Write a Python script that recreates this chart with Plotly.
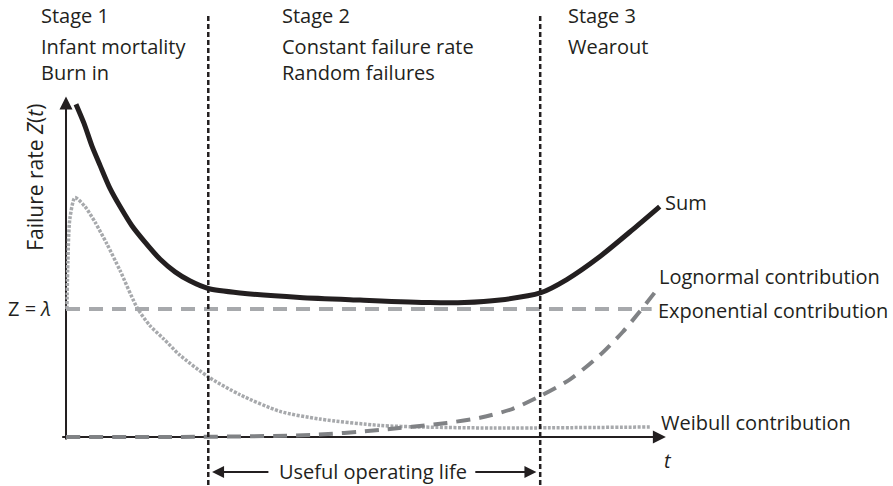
import plotly.graph_objects as go

# ---- data (t in arbitrary time units, Z in units of lambda) ----
LAMBDA = 1.0
stage_bounds = [3.0, 10.0]

t_sum = [0.21, 0.38, 0.55, 0.72, 0.93, 1.14, 1.39, 1.67, 1.98, 2.30, 2.61, 3.00,
         3.67, 4.93, 6.20, 7.67, 8.40, 9.15, 10.00, 10.56, 11.26, 11.95, 12.52]
z_sum = [2.60, 2.45, 2.27, 2.12, 1.94, 1.80, 1.65, 1.52, 1.39, 1.29, 1.22, 1.16,
         1.125, 1.09, 1.07, 1.05, 1.05, 1.07, 1.125, 1.23, 1.41, 1.62, 1.80]

t_weibull = [0.02, 0.04, 0.08, 0.19, 0.40, 0.61, 0.86, 1.14, 1.50, 1.77, 2.05,
             2.40, 3.00, 3.67, 4.51, 5.35, 6.62, 7.50, 9.00, 12.31]
z_weibull = [1.00, 1.38, 1.70, 1.87, 1.80, 1.68, 1.51, 1.30, 1.01, 0.87, 0.77,
             0.64, 0.47, 0.33, 0.20, 0.14, 0.09, 0.078, 0.07, 0.078]

t_lognormal = [0.0, 2.4, 5.2, 6.62, 8.03, 8.73, 9.42, 10.0, 10.63, 11.26, 11.74,
               12.10, 12.46]
z_lognormal = [0.0, 0.0, 0.016, 0.055, 0.11, 0.15, 0.22, 0.32, 0.45, 0.64, 0.82,
               0.98, 1.15]

t_exponential = [0.0, 12.35]
z_exponential = [LAMBDA, LAMBDA]

stage_titles = ["Stage 1", "Stage 2", "Stage 3"]
stage_notes = ["Infant mortality<br>Burn in",
               "Constant failure rate<br>Random failures",
               "Wearout"]

# axis extents (data units)
t_axis_end = 12.65
z_axis_end = 2.66
stage_line_top = 3.31

INK = "#231f20"
LIGHT = "#a7a9ac"
DARK = "#808285"
FONT = "Open Sans"
FONT_SIZE = 20

fig = go.Figure()

# contributions and their sum
fig.add_trace(go.Scatter(x=t_exponential, y=z_exponential, mode="lines",
                         line=dict(color=LIGHT, width=4, dash="14px,9px")))
fig.add_trace(go.Scatter(x=t_weibull, y=z_weibull, mode="lines",
                         line=dict(color=LIGHT, width=3.5, dash="3px,1.5px",
                                   shape="spline", smoothing=0.7)))
fig.add_trace(go.Scatter(x=t_lognormal, y=z_lognormal, mode="lines",
                         line=dict(color=DARK, width=4, dash="14px,9px",
                                   shape="spline", smoothing=0.7)))
fig.add_trace(go.Scatter(x=t_sum, y=z_sum, mode="lines",
                         line=dict(color=INK, width=5, shape="spline", smoothing=0.7)))

shapes = [
    # axes (drawn beneath the curves)
    dict(type="line", xref="x", yref="y", x0=-0.08, y0=0, x1=t_axis_end - 0.2, y1=0,
         line=dict(color=INK, width=2), layer="below"),
    dict(type="line", xref="x", yref="y", x0=0, y0=-0.02, x1=0, y1=z_axis_end - 0.05,
         line=dict(color=INK, width=2), layer="below"),
]
# stage boundaries
for tb in stage_bounds:
    shapes.append(dict(type="line", xref="x", yref="y", x0=tb, x1=tb,
                       y0=-0.5, y1=stage_line_top,
                       line=dict(color=INK, width=2.5, dash="5px,3px"), layer="above"))
fig.update_layout(shapes=shapes)

ann = []
# axis arrowheads
ann.append(dict(x=t_axis_end, y=0, ax=t_axis_end - 0.4, ay=0, xref="x", yref="y",
                axref="x", ayref="y", showarrow=True, arrowhead=2, arrowsize=1.3,
                arrowwidth=2, arrowcolor=INK, text=""))
ann.append(dict(x=0, y=z_axis_end, ax=0, ay=z_axis_end - 0.15, xref="x", yref="y",
                axref="x", ayref="y", showarrow=True, arrowhead=2, arrowsize=1.3,
                arrowwidth=2, arrowcolor=INK, text=""))
# useful operating life arrows
ulife_z = -0.273
ann.append(dict(x=stage_bounds[0] + 0.08, y=ulife_z, ax=4.3, ay=ulife_z, xref="x", yref="y",
                axref="x", ayref="y", showarrow=True, arrowhead=2, arrowsize=1.2,
                arrowwidth=2, arrowcolor=INK, text=""))
ann.append(dict(x=stage_bounds[1] - 0.08, y=ulife_z, ax=8.6, ay=ulife_z, xref="x", yref="y",
                axref="x", ayref="y", showarrow=True, arrowhead=2, arrowsize=1.2,
                arrowwidth=2, arrowcolor=INK, text=""))


def label(x, y, text, anchor="left", angle=0, yanchor="middle", size=FONT_SIZE):
    ann.append(dict(x=x, y=y, xref="x", yref="y", text=text, showarrow=False,
                    xanchor=anchor, yanchor=yanchor, textangle=angle, align="left",
                    font=dict(family=FONT, size=size, color=INK)))


label(6.48, ulife_z, "Useful operating life", anchor="center")

# stage headings
stage_text_x = [-0.58, 4.52, 10.55]
for sx, title, note in zip(stage_text_x, stage_titles, stage_notes):
    label(sx, 3.29, title)
    label(sx, 3.17, note, yanchor="top")

# curve labels
label(12.58, 1.83, "Sum")
label(12.46, 1.25, "Lognormal contribution")
label(12.44, 0.99, "Exponential contribution")
label(12.50, 0.117, "Weibull contribution")
label(12.57, -0.18, "<i>t</i>")
label(-0.27, LAMBDA, "Z = <i>λ</i>", anchor="right")
label(-0.66, 2.03, "Failure rate <i>Z</i>(<i>t</i>)", anchor="center", angle=-90, size=21)

fig.update_layout(
    annotations=ann,
    width=893, height=486,
    margin=dict(l=0, r=0, t=0, b=0),
    paper_bgcolor="white", plot_bgcolor="white",
    showlegend=False,
    xaxis=dict(range=[-1.392, 17.44], visible=False, fixedrange=True),
    yaxis=dict(range=[-0.383, 3.414], visible=False, fixedrange=True),
)

fig.write_html("out.html")
